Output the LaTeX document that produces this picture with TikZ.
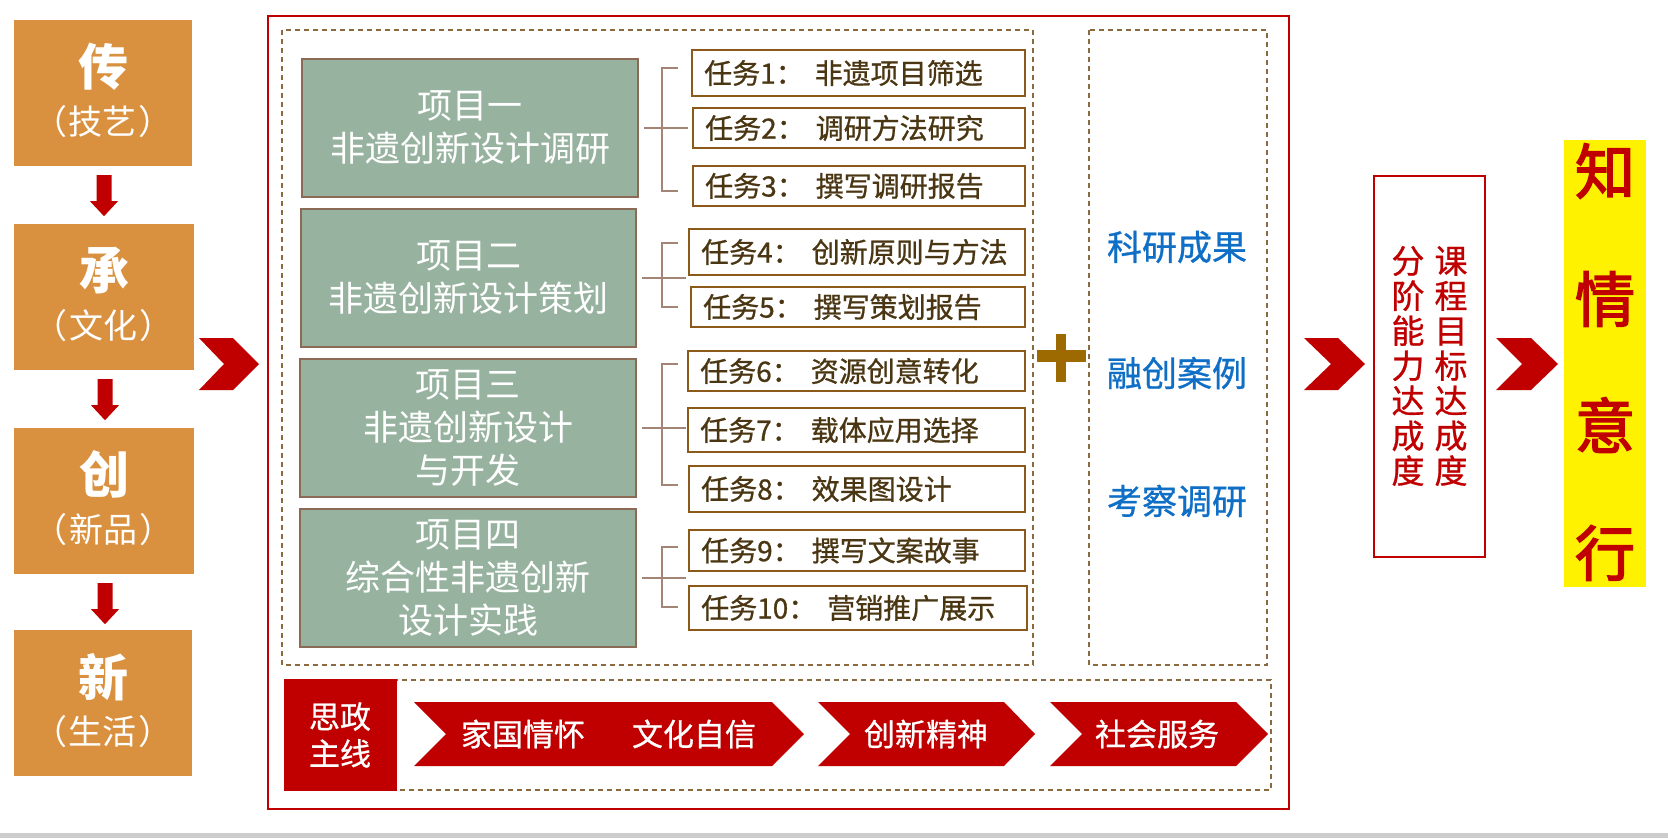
\documentclass[tikz,border=0pt]{standalone}
\usepackage{fontspec}
\setmainfont{Noto Sans CJK SC}
\newfontfamily\medf[FakeBold=0.8]{Noto Sans CJK SC}
\newfontfamily\heavyf[FakeBold=2.5]{Noto Sans CJK SC}
\usetikzlibrary{calc}
\definecolor{myorange}{HTML}{D9913F}
\definecolor{myred}{HTML}{C00000}
\definecolor{mysage}{HTML}{97B3A0}
\definecolor{pborder}{HTML}{8B6B56}
\definecolor{tborder}{HTML}{8B5A1A}
\definecolor{ttext}{HTML}{4A3612}
\definecolor{brkc}{HTML}{A48474}
\definecolor{dashc}{HTML}{8B6A40}
\definecolor{myblue}{HTML}{0F6FC6}
\definecolor{plusc}{HTML}{9C6A00}
\newcommand\fs[1]{\fontsize{#1}{#1}\selectfont}
\newcommand\fsl[2]{\fontsize{#1}{#2}\selectfont}
\newcommand\mychev[6]{\fill[myred] (#1,#5) -- (#3,#5) -- (#4,{(#5+#6)/2}) -- (#3,#6) -- (#1,#6) -- (#2,{(#5+#6)/2}) -- cycle;}
\tikzset{
  obox/.style={fill=myorange, draw=none, inner sep=0pt},
  pbox/.style={fill=mysage, draw=pborder, line width=2pt, inner sep=0pt},
  ptxt/.style={text=white, align=center, inner sep=0pt, font=\fsl{35}{43}},
  tbox/.style={draw=tborder, line width=2pt, fill=white, inner sep=0pt},
  ttxt/.style={text=ttext, anchor=west, inner sep=0pt, font=\medf\fs{28}},
  brkline/.style={draw=brkc, line width=1.5pt},
  dbox/.style={draw=dashc, line width=1.5pt, dash pattern=on 5pt off 4pt},
  btxt/.style={text=myblue, inner sep=0pt, font=\medf\fs{35}},
  wtxt/.style={text=white, inner sep=0pt, font=\medf\fs{31}},
}
\begin{document}
\begin{tikzpicture}[x=1pt,y=-1pt]
\useasboundingbox (0,0) rectangle (1668,838);
\fill[white] (0,0) rectangle (1668,838);
\fill[black!20] (0,833) rectangle (1668,838);

% left column
\node[obox, minimum width=178, minimum height=146] (b1) at (103,93) {};
\node[obox, minimum width=180, minimum height=146] (b2) at (104,297) {};
\node[obox, minimum width=180, minimum height=146] (b3) at (104,501) {};
\node[obox, minimum width=178, minimum height=146] (b4) at (103,703) {};
\foreach \b/\c/\p in {b1/传/技艺, b2/承/文化, b3/创/新品, b4/新/生活}{
  \node[text=white, inner sep=0pt, font=\fs{50}\bfseries] (\b c) at ($(\b.north)+(0,47)$) {\c};
  \node[text=white, inner sep=0pt, font=\fs{34}] (\b p) at ($(\b.north)+(0,102)$) {（\hspace{2pt}\p\hspace{2pt}）};
}
\foreach \a/\b in {b1/b2, b2/b3, b3/b4}{
  \fill[myred] ($(\a.south)+(-6.5,9)$) -- ++(15,0) -- ++(0,26) -- ++(6.5,0) -- ++(-14,15) -- ++(-14,-15) -- ++(6.5,0) -- cycle;
}
\mychev{199}{224}{233}{259}{338}{390}

% outer red frame and dashed boxes
\draw[myred, line width=2pt] (268,16) rectangle (1289,809);
\draw[dbox] (282,30) rectangle (1033,665);
\draw[dbox] (1089,30) rectangle (1267,665);
\draw[dbox] (285,680) rectangle (1271,790);

% projects
\node[pbox, minimum width=336, minimum height=138] (p1) at (470,128) {};
\node[pbox, minimum width=335, minimum height=138] (p2) at (468.5,278) {};
\node[pbox, minimum width=336, minimum height=138] (p3) at (468,428) {};
\node[pbox, minimum width=336, minimum height=138] (p4) at (468,578) {};
\node[ptxt] (p1t) at (p1.center) {项目一\\非遗创新设计调研};
\node[ptxt] (p2t) at (p2.center) {项目二\\非遗创新设计策划};
\node[ptxt] (p3t) at (p3.center) {项目三\\非遗创新设计\\与开发};
\node[ptxt] (p4t) at (p4.center) {项目四\\综合性非遗创新\\设计实践};

% tasks
\node[tbox, minimum width=333, minimum height=46] (t1) at (858.5,73) {};
\node[tbox, minimum width=332, minimum height=40] (t2) at (859,128) {};
\node[tbox, minimum width=332, minimum height=40] (t3) at (859,186) {};
\node[tbox, minimum width=336, minimum height=46] (t4) at (857,252) {};
\node[tbox, minimum width=334, minimum height=40] (t5) at (858,307) {};
\node[tbox, minimum width=337, minimum height=40] (t6) at (856.5,371) {};
\node[tbox, minimum width=337, minimum height=44] (t7) at (856.5,430) {};
\node[tbox, minimum width=336, minimum height=46] (t8) at (857,489) {};
\node[tbox, minimum width=336, minimum height=41] (t9) at (857,550.5) {};
\node[tbox, minimum width=338, minimum height=44] (t10) at (858,608) {};
\foreach \t/\n/\s in {t1/1/非遗项目筛选, t2/2/调研方法研究, t3/3/撰写调研报告, t4/4/创新原则与方法, t5/5/撰写策划报告, t6/6/资源创意转化, t7/7/载体应用选择, t8/8/效果图设计, t9/9/撰写文案故事, t10/10/营销推广展示}{
  \node[ttxt] (\t l) at ($(\t.west)+(13,0)$) {任务\n：\hspace{11pt}\s};
}

% brackets
\foreach \p in {p1, p2, p3, p4}{
  \draw[brkline] ($(\p.east)+(5,0)$) -- ($(\p.east)+(49,0)$);
}
\draw[brkline] ($(t1.west)+(-13,-5)$) -- ++(-16,0) |- ($(t3.west)+(-14,5)$);
\draw[brkline] ($(t4.west)+(-10,-9)$) -- ++(-16,0) |- ($(t5.west)+(-12,0)$);
\draw[brkline] ($(t6.west)+(-9,-7)$) -- ++(-16,0) |- ($(t8.west)+(-10,-4)$);
\draw[brkline] ($(t9.west)+(-10,-3.5)$) -- ++(-16,0) |- ($(t10.west)+(-10,-1)$);

% plus sign
\fill[plusc] (1037,350) rectangle (1086,362);
\fill[plusc] (1056,334) rectangle (1066,382);

% right dashed column texts
\node[btxt] (r1) at (1177,247) {科研成果};
\node[btxt] (r2) at (1177,373) {融创案例};
\node[btxt] (r3) at (1177,501) {考察调研};

% bottom ideological line
\node[fill=myred, inner sep=0pt, minimum width=113, minimum height=112] (sz) at (340,735) {};
\node[wtxt, align=center, font=\medf\fsl{31}{37}] (szt) at (sz.center) {思政\\主线};
\mychev{414}{446}{772}{804}{702}{766}
\mychev{818}{850}{1004}{1035}{702}{766}
\mychev{1050}{1082}{1236}{1268}{702}{766}
\node[wtxt] (c1) at (523,734) {家国情怀};
\node[wtxt] (c2) at (694,734) {文化自信};
\node[wtxt] (c3) at (926,734) {创新精神};
\node[wtxt] (c4) at (1157,734) {社会服务};

% right part
\mychev{1304}{1331}{1338}{1365}{338}{390}
\node[draw=myred, line width=2pt, fill=white, inner sep=0pt, minimum width=111, minimum height=381] (goal) at (1429.5,366.5) {};
\node[text=myred, align=center, inner sep=0pt, font=\medf\fsl{33}{35}] (g1) at (1451,366) {课\\程\\目\\标\\达\\成\\度};
\node[text=myred, align=center, inner sep=0pt, font=\medf\fsl{33}{35}] (g2) at (1408,366) {分\\阶\\能\\力\\达\\成\\度};
\mychev{1496}{1522}{1531}{1558}{338}{390}
\node[fill=yellow, inner sep=0pt, minimum width=82, minimum height=447] (y) at (1605,363.5) {};
\foreach \c/\yy in {知/171, 情/299, 意/425, 行/553}{
  \node[text=myred, inner sep=0pt, font=\heavyf\fs{60}] (k\yy) at (1605,\yy) {\c};
}
\end{tikzpicture}
\end{document}
